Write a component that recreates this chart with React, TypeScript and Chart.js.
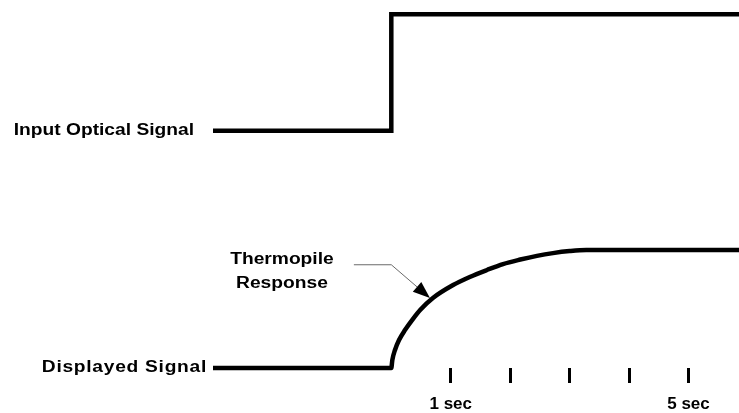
import React, { useEffect, useRef } from 'react';
import { Chart, registerables } from 'chart.js';

Chart.register(...registerables);

// ---- data ----
const TIME_MIN = -3;
const TIME_MAX = 5.85;
const tickSeconds = [1, 2, 3, 4, 5];
const tickLabels = ['1 sec', '', '', '', '5 sec'];

const inputTime = [-3, 0, 0, 5.85];
const inputLevel = [2, 2, 2.98, 2.98];

const displayedTime = [-3, 0, 0.017, 0.062, 0.13, 0.23, 0.35, 0.485, 0.7, 1.04, 1.32, 1.61, 1.88, 2.17, 2.45, 2.72, 3.0, 3.28, 5.85];
const displayedLevel = [0, 0, 0.067, 0.152, 0.236, 0.32, 0.404, 0.489, 0.59, 0.699, 0.767, 0.826, 0.876, 0.914, 0.945, 0.968, 0.985, 0.994, 0.994];

const seriesNames = ['Input Optical Signal', 'Displayed Signal'];
const calloutLines = ['Thermopile', 'Response'];
// callout anchor points in data units (time, level)
const calloutTextTime = -1.84;
const calloutTextLevel = [0.91, 0.71];
const pointerFrom = { t: -0.63, v: 0.87 };
const pointerElbow = { t: 0.0, v: 0.87 };
const pointerTip = { t: 0.65, v: 0.59 };

const FONT = '"Liberation Sans", Arial, Helvetica, sans-serif';
const STRETCH = 1.2;

function drawStretched(ctx: CanvasRenderingContext2D, text: string, x: number, y: number, align: CanvasTextAlign, spacing = 0) {
  ctx.save();
  ctx.translate(x, y);
  ctx.scale(STRETCH, 1);
  (ctx as any).letterSpacing = spacing + 'px';
  ctx.textAlign = align;
  ctx.textBaseline = 'middle';
  ctx.fillText(text, 0, 0);
  ctx.restore();
}

const annotationPlugin = {
  id: 'signalAnnotations',
  afterDraw(chart: any) {
    const { ctx, chartArea, scales } = chart;
    const x = scales.x;
    const y = scales.y;
    ctx.save();
    ctx.fillStyle = '#000';
    ctx.font = `bold 16px ${FONT}`;
    drawStretched(ctx, seriesNames[0], chartArea.left - 19, y.getPixelForValue(inputLevel[0]), 'right');
    drawStretched(ctx, seriesNames[1], chartArea.left - 6, y.getPixelForValue(displayedLevel[0]), 'right', 0.6);
    const cx = x.getPixelForValue(calloutTextTime);
    calloutLines.forEach((line, i) => {
      drawStretched(ctx, line, cx, y.getPixelForValue(calloutTextLevel[i]), 'center');
    });

    // pointer
    const p0 = { x: x.getPixelForValue(pointerFrom.t), y: y.getPixelForValue(pointerFrom.v) };
    const p1 = { x: x.getPixelForValue(pointerElbow.t), y: y.getPixelForValue(pointerElbow.v) };
    const p2 = { x: x.getPixelForValue(pointerTip.t), y: y.getPixelForValue(pointerTip.v) };
    const ang = Math.atan2(p2.y - p1.y, p2.x - p1.x);
    const headLen = 17;
    const headHalf = 6.5;
    const bx = p2.x - headLen * Math.cos(ang);
    const by = p2.y - headLen * Math.sin(ang);
    ctx.strokeStyle = '#6a6a6a';
    ctx.lineWidth = 1;
    ctx.beginPath();
    ctx.moveTo(p0.x, p0.y);
    ctx.lineTo(p1.x, p1.y);
    ctx.lineTo(bx, by);
    ctx.stroke();
    ctx.fillStyle = '#000';
    ctx.beginPath();
    ctx.moveTo(p2.x, p2.y);
    ctx.lineTo(bx + headHalf * Math.sin(ang), by - headHalf * Math.cos(ang));
    ctx.lineTo(bx - headHalf * Math.sin(ang), by + headHalf * Math.cos(ang));
    ctx.closePath();
    ctx.fill();
    ctx.restore();
  },
};

export default function App() {
  const canvasRef = useRef<HTMLCanvasElement | null>(null);

  useEffect(() => {
    document.body.style.margin = '0';
    const canvas = canvasRef.current;
    if (!canvas) return;
    const chart = new Chart(canvas, {
      type: 'scatter',
      data: {
        datasets: [
          {
            label: seriesNames[0],
            data: inputTime.map((t, i) => ({ x: t, y: inputLevel[i] })),
            showLine: true,
            borderColor: '#000',
            backgroundColor: '#000',
            borderWidth: 4.5,
            pointRadius: 0,
            tension: 0,
            borderJoinStyle: 'miter',
            borderCapStyle: 'butt',
            clip: false,
          },
          {
            label: seriesNames[1],
            data: displayedTime.map((t, i) => ({ x: t, y: displayedLevel[i] })),
            showLine: true,
            borderColor: '#000',
            backgroundColor: '#000',
            borderWidth: 4.5,
            pointRadius: 0,
            cubicInterpolationMode: 'monotone',
            borderJoinStyle: 'round',
            borderCapStyle: 'butt',
            clip: false,
          },
        ],
      } as any,
      options: {
        animation: false,
        responsive: true,
        maintainAspectRatio: false,
        events: [],
        layout: { padding: { left: 213, top: 12, right: 0, bottom: 0 } },
        plugins: { legend: { display: false }, tooltip: { enabled: false } },
        scales: {
          x: {
            type: 'linear',
            min: TIME_MIN,
            max: TIME_MAX,
            afterBuildTicks: (s: any) => {
              s.ticks = tickSeconds.map((v) => ({ value: v }));
            },
            afterFit: (s: any) => {
              s.height = 45;
            },
            ticks: {
              callback: (_v: any, i: number) => tickLabels[i],
              color: '#000',
              font: { family: FONT, size: 17, weight: 'bold' },
              padding: 11,
              maxRotation: 0,
              autoSkip: false,
            },
            grid: { drawOnChartArea: false, drawTicks: true, tickLength: 15, color: '#000', lineWidth: 3 },
            border: { display: false },
          },
          y: { display: false, min: 0, max: 3 },
        },
      } as any,
      plugins: [annotationPlugin],
    });
    return () => chart.destroy();
  }, []);

  return (
    <div style={{ position: 'fixed', left: 0, top: 0, width: 739, height: 413, background: '#fff' }}>
      <canvas ref={canvasRef} />
    </div>
  );
}
